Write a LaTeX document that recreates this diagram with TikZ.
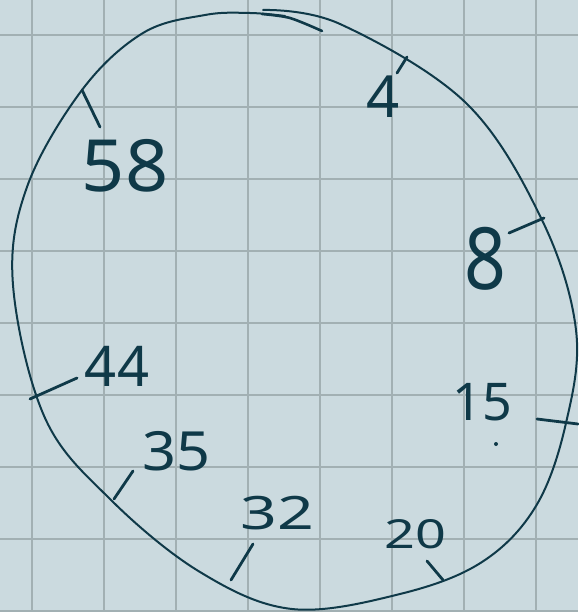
\documentclass[tikz,border=0pt]{standalone}
\usepackage{fontspec}
\setmainfont{Noto Sans}
\definecolor{paper}{HTML}{CBDADF}
\definecolor{gridc}{HTML}{A2B0B3}
\definecolor{ink}{HTML}{0F3948}
\begin{document}
\begin{tikzpicture}[x=1pt,y=-1pt,
  ink line/.style={draw=ink,line width=2pt,line cap=round,line join=round},
  tickmark/.style={draw=ink,line width=2.8pt,line cap=round},
  numlabel/.style={text=ink,inner sep=0pt,font=\fontsize{#1}{#1}\selectfont},
  gridline/.style={draw=gridc,line width=1.8pt}]
\fill[paper] (0,0) rectangle (578,612);
\useasboundingbox (0,0) rectangle (578,612);
% grid
\foreach \gx in {32,104,...,536} \draw[gridline] (\gx,0) -- (\gx,612);
\foreach \gy in {35,107,...,611} \draw[gridline] (0,\gy) -- (578,\gy);
% hand-drawn circle
\draw[ink line] plot[smooth,tension=0.6] coordinates {
 (263,10) (340,24) (466,103) (542,220) (576,330) (566,423)
 (536,506) (482,562) (400,594) (292,609) (200,572)
 (110,499) (45,418) (13,285) (27,187) (82,90) (143,33) (205,15) (250,13) (285,16)};
\draw[ink line,line width=2.6pt] plot[smooth] coordinates {(262,14) (290,18) (322,31)};
% tick marks
\coordinate (t58a) at (82,90);   \coordinate (t58b) at (100,127);
\coordinate (t4a) at (407,57);   \coordinate (t4b) at (397,73);
\coordinate (t8a) at (544,218);  \coordinate (t8b) at (509,233);
\coordinate (t15a) at (537,419); \coordinate (t15b) at (578,424);
\coordinate (t20a) at (427,561); \coordinate (t20b) at (443,580);
\coordinate (t32a) at (231,580); \coordinate (t32b) at (253,544);
\coordinate (t35a) at (114,499); \coordinate (t35b) at (133,471);
\coordinate (t44a) at (30,399);  \coordinate (t44b) at (77,378);
\foreach \t in {58,4,8,15,20,32,35,44} \draw[tickmark] (t\t a) -- (t\t b);
% labels
\node[numlabel=72,xscale=1.05] (l58) at (125,166) {58};
\node[numlabel=58] (l4) at (383,97) {4};
\node[numlabel=86,xscale=0.85] (l8) at (485,259) {8};
\node[numlabel=56] (l44) at (117,366) {44};
\node[numlabel=54,xscale=1.1] (l35) at (176,451) {35};
\node[numlabel=46,xscale=1.4] (l32) at (277,513) {32};
\node[numlabel=52] (l15) at (482,402) {15};
\node[numlabel=40,xscale=1.35] (l20) at (415,534) {20};
\fill[ink] (496,444) circle (2);
\end{tikzpicture}
\end{document}
